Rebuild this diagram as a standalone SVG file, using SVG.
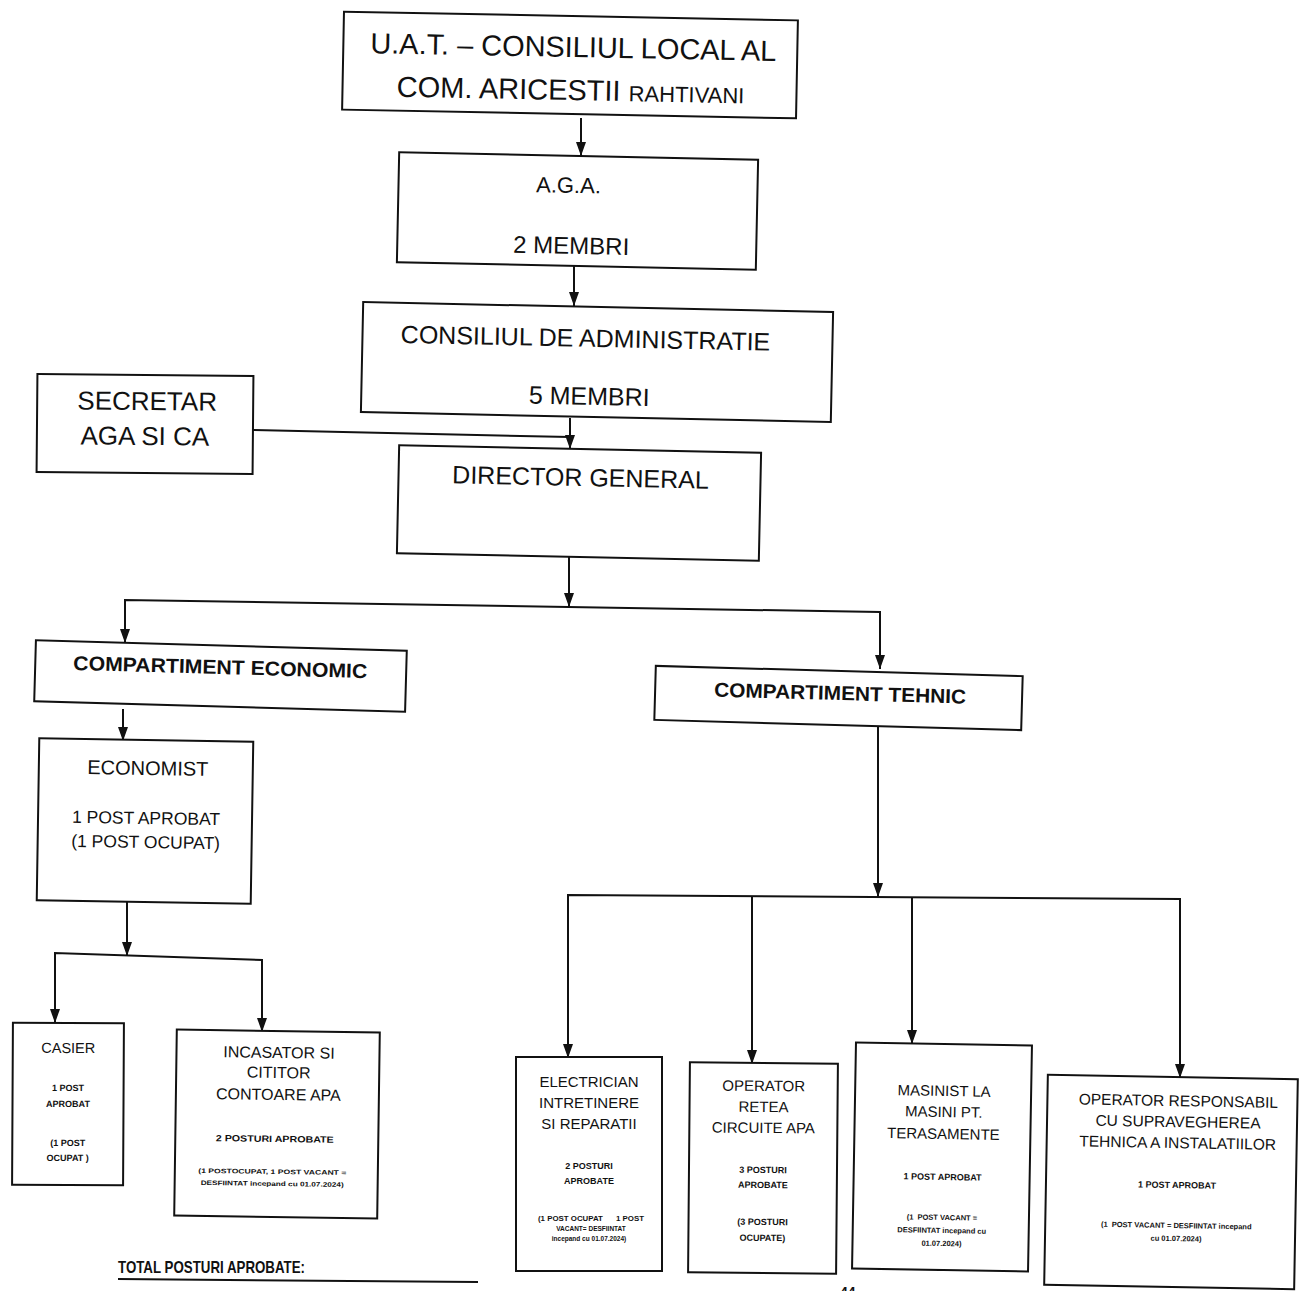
<svg xmlns="http://www.w3.org/2000/svg" width="1299" height="1291" viewBox="0 0 1299 1291">
<defs>
<marker id="arr" viewBox="0 0 14 10" refX="14" refY="5" markerWidth="14" markerHeight="10" markerUnits="userSpaceOnUse" orient="auto-start-reverse">
<path d="M0,0 L14,5 L0,10 Z" fill="#111"/>
</marker>
<style>
.box{fill:#fff;stroke:#111;stroke-width:2}
.t{font-family:"Liberation Sans",Arial,sans-serif;fill:#111;text-anchor:middle}
.b{font-family:"Liberation Sans",Arial,sans-serif;font-weight:bold;fill:#111;text-anchor:middle}
.c{fill:none;stroke:#111;stroke-width:2}
</style>
</defs>
<rect width="1299" height="1291" fill="#fff"/>
<g id="connectors">
<line class="c" x1="581" y1="118" x2="581" y2="156" marker-end="url(#arr)"/>
<line class="c" x1="574" y1="266" x2="574" y2="306" marker-end="url(#arr)"/>
<line class="c" x1="570" y1="418" x2="570" y2="449" marker-end="url(#arr)"/>
<polyline class="c" points="253,430 570,437"/>
<line class="c" x1="569" y1="557" x2="569" y2="607" marker-end="url(#arr)"/>
<polyline class="c" points="125,643 125,600 880,612 880,669" marker-end="url(#arr)" marker-start="url(#arr)"/>
<line class="c" x1="123" y1="709" x2="123" y2="741" marker-end="url(#arr)"/>
<line class="c" x1="127" y1="902" x2="127" y2="956" marker-end="url(#arr)"/>
<polyline class="c" points="55,1023 55,953 262,960 262,1032" marker-end="url(#arr)" marker-start="url(#arr)"/>
<line class="c" x1="878" y1="727" x2="878" y2="897" marker-end="url(#arr)"/>
<polyline class="c" points="568,1058 568,895 1180,899 1180,1078" marker-end="url(#arr)" marker-start="url(#arr)"/>
<line class="c" x1="752" y1="896" x2="752" y2="1064" marker-end="url(#arr)"/>
<line class="c" x1="912" y1="897" x2="912" y2="1044" marker-end="url(#arr)"/>
</g>
<g id="uat" transform="rotate(1.1 570 65)">
<rect class="box" x="343" y="16" width="454" height="98"/>
<text class="t" x="573" y="57" font-size="29" textLength="406" lengthAdjust="spacingAndGlyphs">U.A.T. – CONSILIUL LOCAL AL</text>
<text class="t" x="571" y="100" font-size="29">COM. ARICESTII <tspan font-size="22">RAHTIVANI</tspan></text>
</g>
<g id="aga" transform="rotate(1.2 577 211)">
<rect class="box" x="398" y="156" width="359" height="110"/>
<text class="t" x="568" y="193" font-size="22">A.G.A.</text>
<text class="t" x="572" y="254" font-size="24">2 MEMBRI</text>
</g>
<g id="ca" transform="rotate(1.2 597 362)">
<rect class="box" x="362" y="307" width="470" height="110"/>
<text class="t" x="585" y="347" font-size="25">CONSILIUL DE ADMINISTRATIE</text>
<text class="t" x="590" y="405" font-size="25">5 MEMBRI</text>
</g>
<g id="secretar" transform="rotate(0.5 145 424)">
<rect class="box" x="37" y="375" width="216" height="98"/>
<text class="t" x="147" y="410" font-size="26">SECRETAR</text>
<text class="t" x="145" y="445" font-size="26">AGA SI CA</text>
</g>
<g id="director" transform="rotate(1.2 579 503)">
<rect class="box" x="398" y="449" width="362" height="108"/>
<text class="t" x="580" y="486" font-size="25">DIRECTOR GENERAL</text>
</g>
<g id="comp-economic" transform="rotate(1.6 220 676)">
<rect class="box" x="35" y="645.5" width="371" height="61"/>
<text class="b" x="220" y="674" font-size="20" textLength="294" lengthAdjust="spacingAndGlyphs">COMPARTIMENT ECONOMIC</text>
</g>
<g id="comp-tehnic" transform="rotate(1.6 838 698)">
<rect class="box" x="655" y="671" width="367" height="54"/>
<text class="b" x="840" y="700" font-size="20" textLength="252" lengthAdjust="spacingAndGlyphs">COMPARTIMENT TEHNIC</text>
</g>
<g id="economist" transform="rotate(0.9 145 821)">
<rect class="box" x="38" y="740" width="214" height="162"/>
<text class="t" x="147" y="775" font-size="20">ECONOMIST</text>
<text class="t" x="146" y="824" font-size="17.5">1 POST APROBAT</text>
<text class="t" x="146" y="848" font-size="17.5">(1 POST OCUPAT)</text>
</g>
<g id="casier" transform="rotate(0.3 68 1104)">
<rect class="box" x="12.5" y="1023" width="111" height="162"/>
<text class="t" x="68" y="1053" font-size="14.5">CASIER</text>
<text class="b" x="68" y="1091" font-size="9">1 POST</text>
<text class="b" x="68" y="1107" font-size="9">APROBAT</text>
<text class="b" x="68" y="1146" font-size="9">(1 POST</text>
<text class="b" x="68" y="1161" font-size="9">OCUPAT )</text>
</g>
<g id="incasator" transform="rotate(0.8 277 1124)">
<rect class="box" x="175.5" y="1031" width="203" height="186"/>
<text class="t" x="278" y="1058" font-size="16">INCASATOR SI</text>
<text class="t" x="278" y="1078" font-size="16">CITITOR</text>
<text class="t" x="278" y="1100" font-size="16">CONTOARE APA</text>
<text class="b" x="275" y="1142" font-size="9" textLength="118" lengthAdjust="spacingAndGlyphs">2 POSTURI APROBATE</text>
<text class="b" x="273" y="1174" font-size="6.5" textLength="148" lengthAdjust="spacingAndGlyphs">(1 POSTOCUPAT, 1 POST VACANT =</text>
<text class="b" x="273" y="1186" font-size="6.5" textLength="143" lengthAdjust="spacingAndGlyphs">DESFIINTAT incepand cu 01.07.2024)</text>
</g>
<g id="electrician">
<rect class="box" x="516" y="1057" width="146" height="214"/>
<text class="t" x="589" y="1087" font-size="15">ELECTRICIAN</text>
<text class="t" x="589" y="1108" font-size="15">INTRETINERE</text>
<text class="t" x="589" y="1129" font-size="15">SI REPARATII</text>
<text class="b" x="589" y="1169" font-size="9">2 POSTURI</text>
<text class="b" x="589" y="1184" font-size="9">APROBATE</text>
<text class="b" x="591" y="1221" font-size="6.5" xml:space="preserve" textLength="106" lengthAdjust="spacingAndGlyphs">(1 POST OCUPAT      1 POST</text>
<text class="b" x="591" y="1231" font-size="6.5">VACANT= DESFIINTAT</text>
<text class="b" x="589" y="1241" font-size="6.5">incepand cu 01.07.2024)</text>
</g>
<g id="operator-retea" transform="rotate(0.5 763 1168)">
<rect class="box" x="689" y="1063" width="148" height="210"/>
<text class="t" x="763" y="1091" font-size="15">OPERATOR</text>
<text class="t" x="763" y="1112" font-size="15">RETEA</text>
<text class="t" x="763" y="1133" font-size="15">CIRCUITE APA</text>
<text class="b" x="763" y="1173" font-size="9">3 POSTURI</text>
<text class="b" x="763" y="1188" font-size="9">APROBATE</text>
<text class="b" x="763" y="1225" font-size="9">(3 POSTURI</text>
<text class="b" x="763" y="1241" font-size="9">OCUPATE)</text>
</g>
<g id="masinist" transform="rotate(1 942 1157)">
<rect class="box" x="854" y="1044" width="176" height="226"/>
<text class="t" x="943" y="1096" font-size="15">MASINIST LA</text>
<text class="t" x="943" y="1117" font-size="15">MASINI PT.</text>
<text class="t" x="943" y="1139" font-size="15">TERASAMENTE</text>
<text class="b" x="943" y="1180" font-size="9">1 POST APROBAT</text>
<text class="b" x="943" y="1220" font-size="7.5" xml:space="preserve">(1  POST VACANT =</text>
<text class="b" x="943" y="1233" font-size="7.5">DESFIINTAT incepand cu</text>
<text class="b" x="943" y="1246" font-size="7.5">01.07.2024)</text>
</g>
<g id="operator-responsabil" transform="rotate(1 1171 1182)">
<rect class="box" x="1046" y="1077" width="250" height="210"/>
<text class="t" x="1177" y="1106" font-size="15.5">OPERATOR RESPONSABIL</text>
<text class="t" x="1177" y="1127" font-size="15.5">CU SUPRAVEGHEREA</text>
<text class="t" x="1177" y="1148" font-size="15.5">TEHNICA A INSTALATIILOR</text>
<text class="b" x="1177" y="1188" font-size="9">1 POST APROBAT</text>
<text class="b" x="1177" y="1228" font-size="7.5" xml:space="preserve">(1  POST VACANT = DESFIINTAT incepand</text>
<text class="b" x="1177" y="1241" font-size="7.5">cu 01.07.2024)</text>
</g>
<g id="total">
<text x="118" y="1273" font-family="Liberation Sans, Arial, sans-serif" font-weight="bold" font-size="17" fill="#111" textLength="187" lengthAdjust="spacingAndGlyphs">TOTAL POSTURI APROBATE:</text>
<line x1="118" y1="1279" x2="478" y2="1282" stroke="#111" stroke-width="2"/>
</g>
<text x="840" y="1297" font-family="Liberation Sans, Arial, sans-serif" font-weight="bold" font-size="14" fill="#111">44</text>
</svg>
